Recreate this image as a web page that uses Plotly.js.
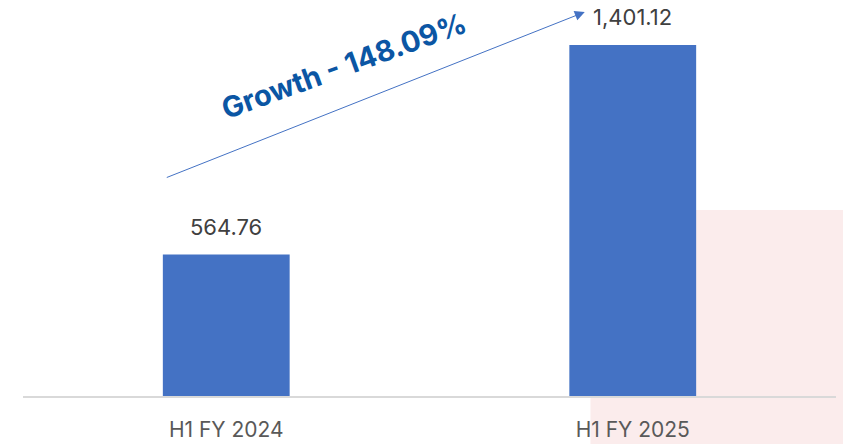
<!DOCTYPE html>
<html>
<head>
<meta charset="utf-8">
<script src="https://cdn.plot.ly/plotly-3.0.1.min.js"></script>
<style>
  html, body { margin: 0; padding: 0; background: #fff; }
  #chart { width: 843px; height: 444px; }
</style>
</head>
<body>
<div id="chart"></div>
<script>
  const periods = ['H1 FY 2024', 'H1 FY 2025'];
  const values = [564.76, 1401.12];
  const valueLabels = ['564.76', '1,401.12'];
  const growthText = 'Growth - 148.09%';

  const font = 'Inter, "Noto Sans", sans-serif';

  // value labels sit a bit higher above the bars than plotly's "outside" text
  const labelNotes = periods.map((p, i) => ({
    x: p, y: values[i],
    xref: 'x', yref: 'y',
    text: valueLabels[i],
    showarrow: false,
    yanchor: 'bottom',
    yshift: 13,
    font: { family: font, size: 22, color: '#404040' }
  }));

  Plotly.newPlot('chart', [{
    type: 'bar',
    x: periods,
    y: values,
    marker: { color: '#4472C4' },
    width: 0.312,
    hoverinfo: 'skip'
  }], {
    width: 843,
    height: 444,
    margin: { l: 23, r: 7, t: 0, b: 48 },
    paper_bgcolor: 'rgba(0,0,0,0)',
    plot_bgcolor: 'rgba(0,0,0,0)',
    showlegend: false,
    xaxis: {
      type: 'category',
      range: [-0.5, 1.5],
      showline: true,
      linecolor: '#d9d9d9',
      linewidth: 2,
      ticks: '',
      ticklabelstandoff: 14,
      tickfont: { family: font, size: 21, color: '#595959' },
      fixedrange: true
    },
    yaxis: {
      range: [0, 1581],
      visible: false,
      showgrid: false,
      zeroline: false,
      fixedrange: true
    },
    shapes: [{
      type: 'rect',
      xref: 'paper', yref: 'paper',
      x0: 0.698, x1: 1.02, y0: -0.13, y1: 0.47,
      fillcolor: '#FBECEC',
      line: { width: 0 },
      layer: 'below'
    }],
    annotations: labelNotes.concat([{
      x: 0.882, y: 1533,
      xref: 'x', yref: 'y',
      axref: 'x', ayref: 'y',
      ax: -0.15, ay: 870,
      text: '',
      showarrow: true,
      arrowhead: 2,
      arrowsize: 2,
      arrowwidth: 1,
      arrowcolor: '#4472C4'
    }, {
      x: 0.29, y: 1318,
      xref: 'x', yref: 'y',
      text: '<b>' + growthText + '</b>',
      showarrow: false,
      textangle: -20,
      font: { family: font, size: 29, color: '#0B56A4' }
    }])
  }, { displayModeBar: false, staticPlot: true });
</script>
</body>
</html>
